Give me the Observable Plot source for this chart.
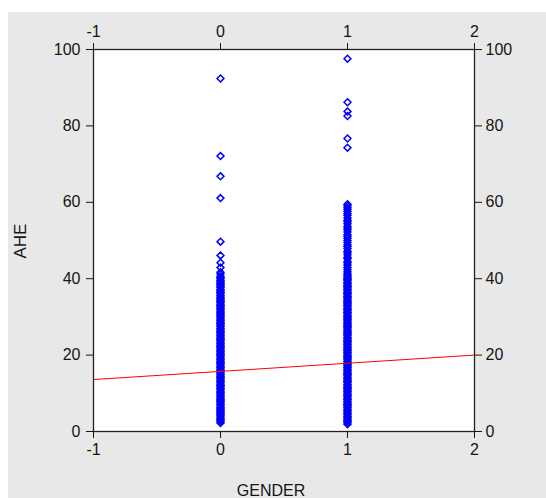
<!DOCTYPE html>
<html>
<head>
<meta charset="utf-8">
<script src="https://cdn.jsdelivr.net/npm/d3@7"></script>
<script src="https://cdn.jsdelivr.net/npm/@observablehq/plot@0.6"></script>
<style>
  html, body { margin: 0; padding: 0; background: #ffffff; }
  #chart svg { display: block; margin-left: 8px; margin-top: 12px; }
</style>
</head>
<body>
<div id="chart"></div>
<script>
// Tick labels
const xTicks = [-1, 0, 1, 2];
const yTicks = [0, 20, 40, 60, 80, 100];

// AHE values for GENDER = 0 (dense column + outliers)
const ahe0 = [2.2,2.5,2.9,3.2,3.4,3.8,4.1,4.3,4.7,4.9,5.3,5.5,5.8,6.1,6.3,6.7,7.0,7.2,7.6,7.9,8.2,8.4,8.7,9.1,9.3,9.6,10.0,10.3,10.5,10.9,11.2,11.4,11.8,12.0,12.3,12.7,13.0,13.2,13.5,13.9,14.1,14.4,14.8,15.0,15.3,15.6,16.0,16.2,16.6,16.8,17.1,17.5,17.8,18.0,18.3,18.7,19.0,19.2,19.6,19.9,20.2,20.4,20.8,21.1,21.3,21.6,22.0,22.2,22.5,22.9,23.1,23.4,23.8,24.0,24.3,24.6,25.0,25.2,25.6,25.9,26.1,26.5,26.8,27.0,27.4,27.6,28.0,28.3,28.5,28.9,29.1,29.4,29.8,30.0,30.3,30.7,31.0,31.2,31.5,31.9,32.1,32.4,32.8,33.0,33.3,33.7,34.0,34.2,34.5,34.9,35.1,35.5,35.7,36.1,36.4,36.6,37.0,37.2,37.6,37.9,38.1,38.5,38.7,39.1,39.4,39.6,40.0,40.3,40.6,41.2,41.7,42.9,44.2,46.1,49.7,61.1,66.8,72.1,92.4];

// AHE values for GENDER = 1
const ahe1 = [1.9,2.2,2.6,2.8,3.1,3.5,3.8,4.0,4.4,4.6,4.9,5.3,5.6,5.8,6.2,6.4,6.8,7.1,7.3,7.7,7.9,8.3,8.5,8.8,9.2,9.5,9.7,10.1,10.4,10.6,11.0,11.3,11.5,11.9,12.2,12.4,12.8,13.1,13.3,13.7,14.0,14.2,14.6,14.9,15.1,15.4,15.8,16.1,16.3,16.7,16.9,17.3,17.6,17.8,18.2,18.4,18.8,19.1,19.3,19.7,19.9,20.3,20.6,20.8,21.2,21.4,21.8,22.1,22.3,22.7,22.9,23.3,23.6,23.8,24.2,24.5,24.7,25.1,25.3,25.7,26.0,26.2,26.6,26.8,27.2,27.5,27.7,28.1,28.4,28.6,29.0,29.3,29.5,29.9,30.2,30.4,30.8,31.1,31.3,31.7,32.0,32.2,32.6,32.9,33.1,33.5,33.8,34.0,34.4,34.6,35.0,35.3,35.5,35.9,36.2,36.4,36.8,37.1,37.3,37.7,38.0,38.2,38.6,38.9,39.1,39.5,39.8,40.0,40.4,40.7,41.0,41.4,41.9,42.5,43.0,43.6,44.1,44.5,45.2,45.6,46.3,46.8,47.2,47.9,48.4,48.8,49.5,50.0,50.6,51.1,51.5,52.2,52.8,53.3,53.7,54.4,54.9,55.3,55.9,56.6,57.0,57.6,58.1,58.6,59.1,59.5,74.3,76.7,82.6,83.8,86.2,97.6];

// Fitted regression line endpoints
const fitX = [-1, 2];
const fitY = [13.6, 20.0];

const points = [
  ...ahe0.map(v => ({gender: 0, ahe: v})),
  ...ahe1.map(v => ({gender: 1, ahe: v}))
];
const fit = fitX.map((x, i) => ({gender: x, ahe: fitY[i]}));

const fmt = d => String(d);

const chart = Plot.plot({
  width: 538,
  height: 486,
  marginLeft: 85,
  marginRight: 72,
  marginTop: 37,
  marginBottom: 67,
  style: {
    background: "#e8e8e8",
    fontFamily: "'Liberation Sans', Arial, sans-serif",
    fontSize: "16px",
    color: "#151515"
  },
  x: {domain: [-1, 2]},
  y: {domain: [0, 100]},
  marks: [
    Plot.frame({fill: "white", stroke: "none"}),
    Plot.dot(points, {x: "gender", y: "ahe", symbol: "diamond2", r: 3.1, stroke: "#0000ff", strokeWidth: 1.5, fill: "none"}),
    Plot.line(fit, {x: "gender", y: "ahe", stroke: "#ff0000", strokeWidth: 1}),
    Plot.frame({stroke: "#222", strokeWidth: 1.3}),
    Plot.axisX({ticks: xTicks, anchor: "bottom", tickSize: 7, tickPadding: 5, tickFormat: fmt, label: null}),
    Plot.axisX({ticks: xTicks, anchor: "top", tickSize: 7, tickPadding: 6, tickFormat: fmt, label: null}),
    Plot.axisY({ticks: yTicks, anchor: "left", tickSize: 7, tickPadding: 6, tickFormat: fmt, label: null}),
    Plot.axisY({ticks: yTicks, anchor: "right", tickSize: 7, tickPadding: 4, tickFormat: fmt, label: null}),
    Plot.text(["AHE"], {frameAnchor: "left", rotate: -90, dx: -73, dy: 18, fontSize: 17, fill: "#151515"}),
    Plot.text(["GENDER"], {frameAnchor: "bottom", lineAnchor: "top", dx: -13, dy: 53, fontSize: 16, fill: "#151515"})
  ]
});

document.getElementById("chart").appendChild(chart);
</script>
</body>
</html>
